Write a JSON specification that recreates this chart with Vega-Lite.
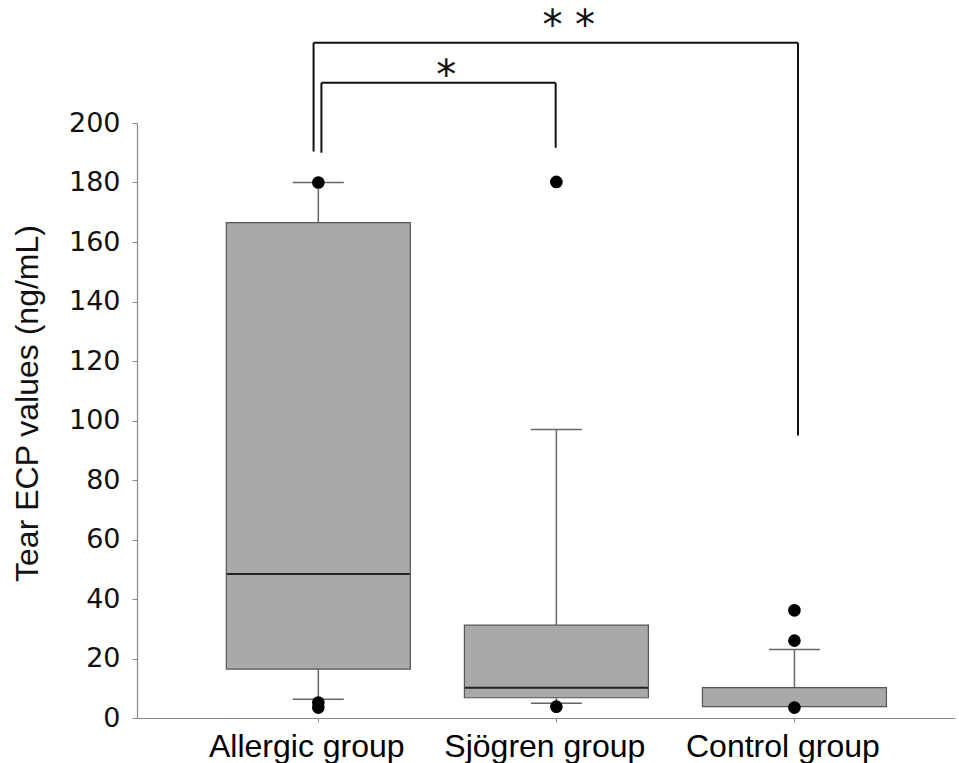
{
  "$schema": "https://vega.github.io/schema/vega-lite/v6.json",
  "width": 818,
  "height": 595,
  "autosize": {"type": "none"},
  "padding": {"left": 137, "top": 123, "right": 4, "bottom": 45},
  "background": "white",
  "config": {"view": {"stroke": null}, "axis": {"grid": false}},
  "datasets": {
    "boxes": [
      {"group": "Allergic group", "pos": 1, "wlo": 6.3, "q1": 16.4, "med": 48.4, "q3": 166.5, "whi": 180},
      {"group": "Sjögren group", "pos": 2, "wlo": 5.0, "q1": 6.8, "med": 10.2, "q3": 31.2, "whi": 97},
      {"group": "Control group", "pos": 3, "wlo": null, "q1": 3.8, "med": null, "q3": 10.2, "whi": 23}
    ],
    "outliers": [
      {"group": "Allergic group", "pos": 1, "value": 180},
      {"group": "Allergic group", "pos": 1, "value": 5.2},
      {"group": "Allergic group", "pos": 1, "value": 3.5},
      {"group": "Sjögren group", "pos": 2, "value": 180.2},
      {"group": "Sjögren group", "pos": 2, "value": 3.8},
      {"group": "Control group", "pos": 3, "value": 36.2},
      {"group": "Control group", "pos": 3, "value": 26.0},
      {"group": "Control group", "pos": 3, "value": 3.5}
    ],
    "brackets": [
      {"label": "*", "from": 1.013, "to": 1.997, "top": 213.5, "leftEnd": 190.0, "rightEnd": 191.7, "labelPos": 1.537, "labelY": 215.5},
      {"label": "* *", "from": 0.98, "to": 3.015, "top": 227, "leftEnd": 190.4, "rightEnd": 95, "labelPos": 2.052, "labelY": 232.3}
    ]
  },
  "layer": [
    {
      "data": {"name": "boxes"},
      "mark": {"type": "rule", "color": "#666", "strokeWidth": 1.5},
      "encoding": {
        "x": {
          "field": "pos", "type": "quantitative",
          "scale": {"domain": [0.2593, 3.6535], "nice": false, "zero": false},
          "axis": {
            "orient": "bottom", "values": [1, 2, 3], "title": null,
            "labelExpr": "datum.value == 1 ? 'Allergic group' : datum.value == 2 ? 'Sjögren group' : 'Control group'",
            "labelFont": "Liberation Sans", "labelFontSize": 32, "labelColor": "#000", "labelLimit": 0,
            "tickSize": 4, "tickColor": "#888", "domainColor": "#888", "domainWidth": 1.2,
            "labelPadding": 9, "labelOffset": -12
          }
        },
        "y": {
          "field": "q3", "type": "quantitative",
          "scale": {"domain": [0, 200], "nice": false},
          "axis": {
            "values": [0, 20, 40, 60, 80, 100, 120, 140, 160, 180, 200],
            "title": "Tear ECP values  (ng/mL)",
            "titleFont": "Liberation Sans", "titleFontSize": 32, "titleFontWeight": "normal", "titleColor": "#111",
            "titlePadding": 24, "titleY": 280,
            "labelFont": "DejaVu Sans", "labelFontSize": 27, "labelColor": "#111",
            "tickSize": 5, "tickColor": "#888", "domainColor": "#888", "domainWidth": 1.2, "labelPadding": 12
          }
        },
        "y2": {"field": "whi"}
      }
    },
    {
      "data": {"name": "boxes"},
      "mark": {"type": "rule", "color": "#666", "strokeWidth": 1.5},
      "encoding": {
        "x": {"field": "pos", "type": "quantitative"},
        "y": {"field": "wlo", "type": "quantitative"},
        "y2": {"field": "q1"}
      }
    },
    {
      "data": {"name": "boxes"},
      "mark": {"type": "bar", "width": 184, "fill": "#a9a9a9", "stroke": "#555", "strokeWidth": 1.2},
      "encoding": {
        "x": {"field": "pos", "type": "quantitative"},
        "y": {"field": "q1", "type": "quantitative"},
        "y2": {"field": "q3"}
      }
    },
    {
      "data": {"name": "boxes"},
      "mark": {"type": "tick", "orient": "horizontal", "size": 183, "thickness": 2, "color": "#222", "opacity": 1},
      "encoding": {
        "x": {"field": "pos", "type": "quantitative"},
        "y": {"field": "med", "type": "quantitative"}
      }
    },
    {
      "data": {"name": "boxes"},
      "mark": {"type": "tick", "orient": "horizontal", "size": 51, "thickness": 1.5, "color": "#666", "opacity": 1},
      "encoding": {
        "x": {"field": "pos", "type": "quantitative"},
        "y": {"field": "whi", "type": "quantitative"}
      }
    },
    {
      "data": {"name": "boxes"},
      "mark": {"type": "tick", "orient": "horizontal", "size": 51, "thickness": 1.5, "color": "#666", "opacity": 1},
      "encoding": {
        "x": {"field": "pos", "type": "quantitative"},
        "y": {"field": "wlo", "type": "quantitative"}
      }
    },
    {
      "data": {"name": "outliers"},
      "mark": {"type": "circle", "size": 160, "color": "#000", "opacity": 1},
      "encoding": {
        "x": {"field": "pos", "type": "quantitative"},
        "y": {"field": "value", "type": "quantitative"}
      }
    },
    {
      "data": {"name": "brackets"},
      "mark": {"type": "rule", "color": "#111", "strokeWidth": 2},
      "encoding": {
        "x": {"field": "from", "type": "quantitative"},
        "x2": {"field": "to"},
        "y": {"field": "top", "type": "quantitative"}
      }
    },
    {
      "data": {"name": "brackets"},
      "mark": {"type": "rule", "color": "#111", "strokeWidth": 2},
      "encoding": {
        "x": {"field": "from", "type": "quantitative"},
        "y": {"field": "top", "type": "quantitative"},
        "y2": {"field": "leftEnd"}
      }
    },
    {
      "data": {"name": "brackets"},
      "mark": {"type": "rule", "color": "#111", "strokeWidth": 2},
      "encoding": {
        "x": {"field": "to", "type": "quantitative"},
        "y": {"field": "top", "type": "quantitative"},
        "y2": {"field": "rightEnd"}
      }
    },
    {
      "data": {"name": "brackets"},
      "mark": {"type": "text", "font": "DejaVu Sans", "fontSize": 40, "color": "#111", "align": "center", "baseline": "middle"},
      "encoding": {
        "x": {"field": "labelPos", "type": "quantitative"},
        "y": {"field": "labelY", "type": "quantitative"},
        "text": {"field": "label"}
      }
    }
  ]
}
